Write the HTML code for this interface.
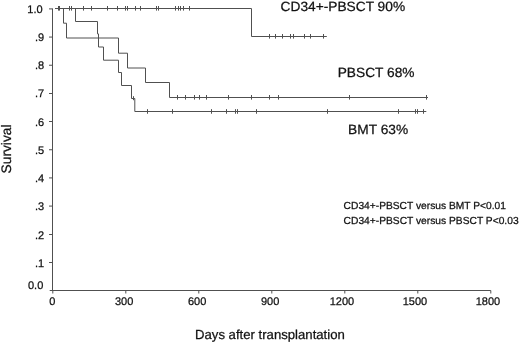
<!DOCTYPE html>
<html><head><meta charset="utf-8"><title>Survival</title>
<style>
html,body{margin:0;padding:0;background:#fff;}
body{width:520px;height:343px;overflow:hidden;}
svg{display:block;filter:grayscale(1);}
text{font-family:"Liberation Sans",sans-serif;fill:#111;stroke:#111;stroke-width:0.25px;text-rendering:geometricPrecision;}
.ax text{font-size:11px;}
.lb{font-size:13.4px;}
.st{font-size:10.2px;}
.ti{font-size:13.1px;}
.sv{font-size:13.75px;}
</style></head>
<body>
<svg width="520" height="343" viewBox="0 0 520 343">
<rect width="520" height="343" fill="#fff"/>
<g fill="none" stroke="#505050" stroke-width="1">
<path d="M52.5,8.5V290.5M49.7,290.5H490.8"/>
<path d="M49,8.90H52.5M49,37.07H52.5M49,65.24H52.5M49,93.50H52.5M49,121.50H52.5M49,149.75H52.5M49,177.92H52.5M49,206.09H52.5M49,234.50H52.5M49,262.50H52.5M52.80,290.5V293.5M125.80,290.5V293.5M198.80,290.5V293.5M271.80,290.5V293.5M344.80,290.5V293.5M417.80,290.5V293.5M490.80,290.5V293.5"/>
<path d="M55,8.5H251.5V36.5H326.8"/>
<path d="M63.50,8.5V23.20H66.50V38.00H118.50V53.20H127.50V68.00H145.50V82.50H169.50V97.50H428"/>
<path d="M75.50,8.5V21.50H97.50V33.90H98.50V47.00H103.50V60.20H118.50V72.50H121.50V85.50H131.50V98.50H134.80V111.50H426.3"/>
<path d="M58.50,6.00V10.60M59.50,6.00V10.60M69.50,6.00V10.60M71.50,6.00V10.60M83.50,6.00V10.60M91.50,6.00V10.60M107.50,6.00V10.60M117.50,6.00V10.60M125.50,6.00V10.60M127.50,6.00V10.60M135.50,6.00V10.60M140.50,6.00V10.60M156.50,6.00V10.60M158.50,6.00V10.60M175.50,6.00V10.60M178.50,6.00V10.60M180.50,6.00V10.60M183.50,6.00V10.60M189.50,6.00V10.60M269.50,34.00V38.60M275.50,34.00V38.60M282.50,34.00V38.60M290.50,34.00V38.60M293.50,34.00V38.60M304.50,34.00V38.60M310.50,34.00V38.60M323.50,34.00V38.60M177.50,95.00V99.60M185.50,95.00V99.60M194.50,95.00V99.60M199.50,95.00V99.60M206.50,95.00V99.60M228.50,95.00V99.60M251.50,95.00V99.60M269.50,95.00V99.60M278.50,95.00V99.60M349.50,95.00V99.60M426.50,95.00V99.60M147.50,109.15V113.75M172.50,109.15V113.75M211.50,109.15V113.75M226.50,109.15V113.75M235.50,109.15V113.75M237.50,109.15V113.75M256.50,109.15V113.75M327.50,109.15V113.75M398.50,109.15V113.75M415.50,109.15V113.75M417.50,109.15V113.75M423.50,109.15V113.75M133.50,96.20V100.20"/>
</g>
<g class="ax"><text x="42.6" y="12.50" text-anchor="end">1.0</text><text x="44.1" y="40.78" text-anchor="end">.9</text><text x="44.1" y="69.06" text-anchor="end">.8</text><text x="44.1" y="97.34" text-anchor="end">.7</text><text x="44.1" y="125.62" text-anchor="end">.6</text><text x="44.1" y="153.90" text-anchor="end">.5</text><text x="44.1" y="182.18" text-anchor="end">.4</text><text x="44.1" y="210.46" text-anchor="end">.3</text><text x="44.1" y="238.74" text-anchor="end">.2</text><text x="44.1" y="267.02" text-anchor="end">.1</text><text x="43.3" y="289.2" text-anchor="end">0.0</text><text x="52.20" y="305.3" text-anchor="middle">0</text><text x="124.14" y="305.3" text-anchor="middle">300</text><text x="197.14" y="305.3" text-anchor="middle">600</text><text x="270.14" y="305.3" text-anchor="middle">900</text><text x="342.00" y="305.3" text-anchor="middle">1200</text><text x="415.00" y="305.3" text-anchor="middle">1500</text><text x="488.00" y="305.3" text-anchor="middle">1800</text></g>
<text class="lb" x="280.6" y="10.8" textLength="124.5" lengthAdjust="spacingAndGlyphs">CD34+-PBSCT 90%</text>
<text class="lb" x="337.7" y="77.3" textLength="76.8" lengthAdjust="spacingAndGlyphs">PBSCT 68%</text>
<text class="lb" x="348.1" y="133.5" textLength="60.0" lengthAdjust="spacingAndGlyphs">BMT 63%</text>
<text class="st" x="343.6" y="209.1" textLength="162.3" lengthAdjust="spacingAndGlyphs">CD34+-PBSCT versus BMT P&lt;0.01</text>
<text class="st" x="343.6" y="224.4" textLength="175" lengthAdjust="spacingAndGlyphs">CD34+-PBSCT versus PBSCT P&lt;0.03</text>
<text class="ti" x="195" y="339.3" textLength="149.8" lengthAdjust="spacingAndGlyphs">Days after transplantation</text>
<text class="sv" transform="translate(11.2,173.4) rotate(-90)">Survival</text>
</svg>
</body></html>
